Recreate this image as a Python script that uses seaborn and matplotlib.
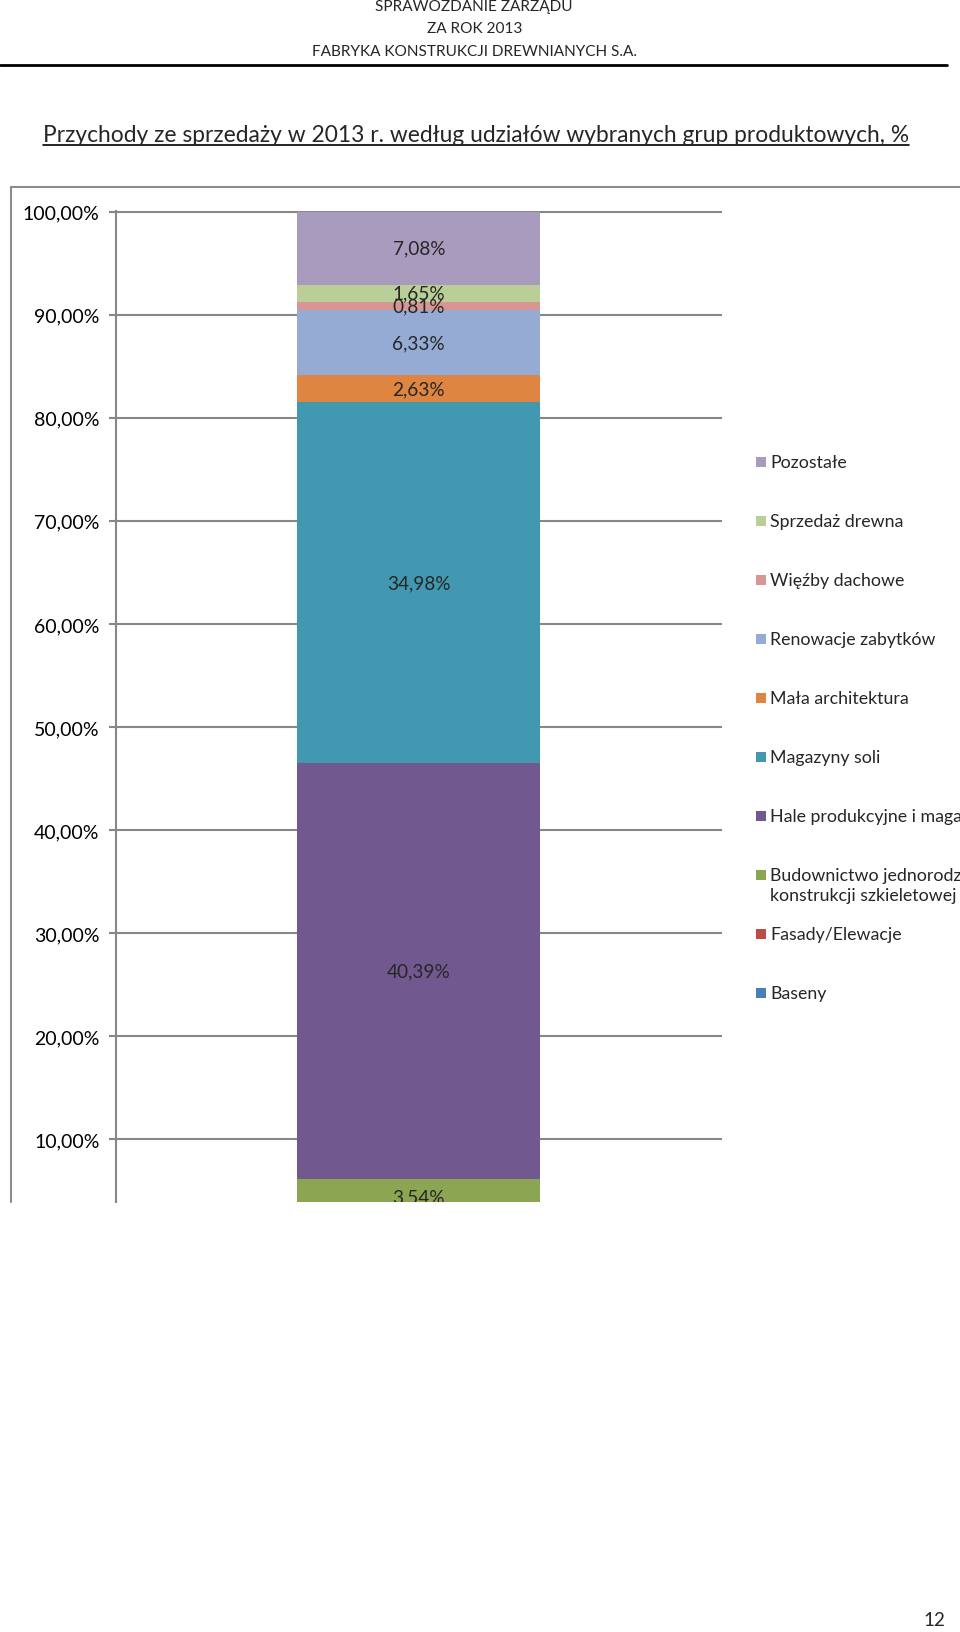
import matplotlib
matplotlib.use("Agg")
import matplotlib.pyplot as plt
import seaborn as sns
import pandas as pd
from matplotlib.lines import Line2D
from matplotlib.patches import Rectangle

# dane z wykresu (od dołu stosu do góry)
groups = [
    "Baseny",
    "Fasady/Elewacje",
    "Budownictwo jednorodzinne w\nkonstrukcji szkieletowej",
    "Hale produkcyjne i magazynowe",
    "Magazyny soli",
    "Mała architektura",
    "Renowacje zabytków",
    "Więźby dachowe",
    "Sprzedaż drewna",
    "Pozostałe",
]
shares = [1.10, 1.49, 3.54, 40.39, 34.98, 2.63, 6.33, 0.81, 1.65, 7.08]
colors = ["#4A7EBB", "#BE4B48", "#8CA552", "#71588F", "#4298B1",
          "#DE8541", "#95ABD3", "#D89593", "#B9CF97", "#A99BBD"]
year = "2013"
y_ticks = [10, 20, 30, 40, 50, 60, 70, 80, 90, 100]

W, H = 960, 1633
GRAY = "#878787"


def fx(x):
    return x / W


def fy(y):
    return 1 - y / H


sns.set_theme(style="white")
plt.rcParams['font.family'] = ['Lato', 'DejaVu Sans']

df = pd.DataFrame({"rok": year, "grupa": groups, "udzial": shares, "kolor": colors})
df["gora"] = df["udzial"].cumsum()

fig = plt.figure(figsize=(W / 100, H / 100), dpi=100)

# nagłówek strony
fig.text(0.494, fy(7), "SPRAWOZDANIE ZARZĄDU", ha="center", va="center", fontsize=11.1)
fig.text(0.494, fy(29), "ZA ROK 2013", ha="center", va="center", fontsize=11.1)
fig.text(0.494, fy(52), "FABRYKA KONSTRUKCJI DREWNIANYCH S.A.", ha="center", va="center", fontsize=11.1)
fig.add_artist(Line2D([0, fx(947)], [fy(66), fy(66)], color="black", lw=2))

# tytuł z podkreśleniem
title = fig.text(fx(43), fy(142), "Przychody ze sprzedaży w 2013 r. według udziałów wybranych grup produktowych, %",
                 ha="left", va="baseline", fontsize=16.35)
fig.canvas.draw()
bb = title.get_window_extent().transformed(fig.transFigure.inverted())
fig.add_artist(Line2D([bb.x0, bb.x1], [fy(146), fy(146)], color="black", lw=1.2))

# ramka obszaru wykresu
fig.add_artist(Line2D([fx(11), 1], [fy(187.5), fy(187.5)], color="#8C8C8C", lw=1.5))
fig.add_artist(Line2D([fx(11), fx(11)], [fy(187.5), fy(1203)], color="#8C8C8C", lw=1.5))

ax = fig.add_axes([fx(115.5), fy(1203), (722 - 115.5) / W, (1203 - 211.7) / H])

# słupek skumulowany: rysujemy od najwyższej sumy do najniższej
for _, row in df.iloc[::-1].iterrows():
    sns.barplot(x=[row["rok"]], y=[row["gora"]], color=row["kolor"], width=0.4,
                saturation=1, linewidth=0, ax=ax)

ax.set_xlim(-0.5, 0.5)
ax.set_ylim(3.9, 100.1)

# etykiety danych (tylko te, które mieszczą się w widocznym fragmencie)
y_low = ax.get_ylim()[0]
for _, row in df.iterrows():
    mid = row["gora"] - row["udzial"] / 2
    if mid < y_low:
        continue
    ax.text(0, mid, f"{row['udzial']:.2f}%".replace(".", ","),
            ha="center", va="center", fontsize=13.7, clip_on=True)

ax.set_yticks(y_ticks)
ax.set_yticklabels([f"{v:.2f}%".replace(".", ",") for v in y_ticks])
ax.set_xticks([])
ax.set_xlabel("")
ax.set_ylabel("")
ax.set_axisbelow(True)
ax.yaxis.grid(True, color=GRAY, linewidth=1.5)
for s in ["top", "right", "bottom"]:
    ax.spines[s].set_visible(False)
ax.spines["left"].set_color(GRAY)
ax.spines["left"].set_linewidth(1.5)
ax.tick_params(axis="y", left=True, length=5, width=1.5, color=GRAY, pad=6.5,
               labelsize=14, labelcolor="black")

# legenda w stylu Excela (stałe odstępy slotów)
for i, row in enumerate(df.iloc[::-1].itertuples()):
    slot = 463.4 + i * 59.0
    fig.add_artist(Rectangle((fx(756), fy(slot + 5)), 10 / W, 10 / H,
                             facecolor=row.kolor, edgecolor="none", transform=fig.transFigure))
    for k, line in enumerate(row.grupa.split("\n")):
        fig.text(fx(770.5), fy(slot + k * 19.8), line, ha="left", va="center", fontsize=12.8)

# numer strony
fig.text(fx(934), fy(1621), "12", ha="center", va="center", fontsize=13.5)

fig.savefig("out.png", dpi=100)
